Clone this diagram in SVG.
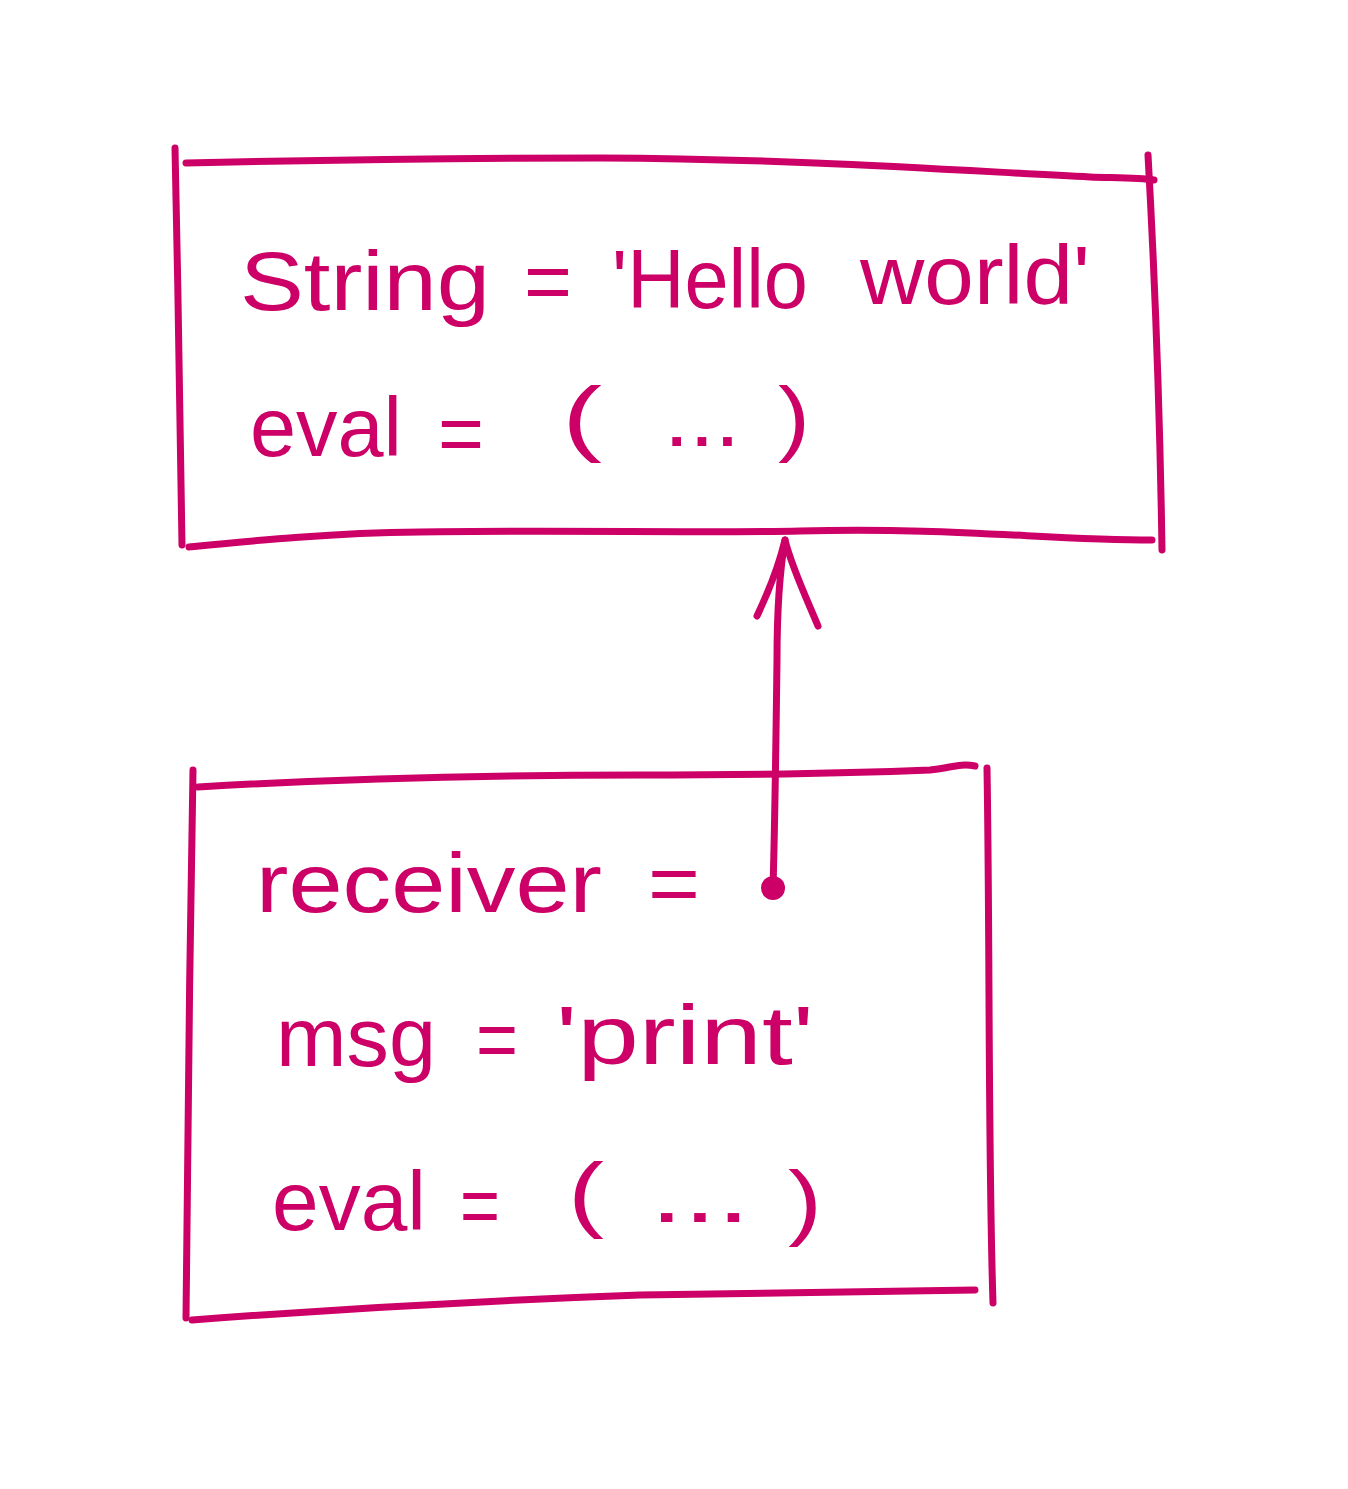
<svg xmlns="http://www.w3.org/2000/svg" width="1348" height="1489" viewBox="0 0 1348 1489">
  <style>
    .sk { fill: none; stroke: #CC0066; stroke-width: 7; stroke-linecap: round; stroke-linejoin: round; }
    .t { fill: #CC0066; font-family: "Liberation Sans", "DejaVu Sans", sans-serif; font-size: 84px; }
  </style>
  <defs>
    <marker id="openArrow" markerUnits="userSpaceOnUse" viewBox="-90 -40 100 80" refX="0" refY="0" markerWidth="100" markerHeight="80" orient="-90" overflow="visible">
      <path class="sk" d="M-76,-28 C-55,-18 -25,-6 0,0 C-25,6 -55,20 -86,33"/>
    </marker>
    <marker id="dot" markerUnits="userSpaceOnUse" viewBox="-14 -14 28 28" refX="0" refY="0" markerWidth="28" markerHeight="28" overflow="visible">
      <circle cx="0" cy="0" r="12" fill="#CC0066"/>
    </marker>
  </defs>
  <rect width="1348" height="1489" fill="#ffffff"/>

  <g id="node-string">
    <path class="sk" d="M175,148 C178,280 180,420 182,545"/>
    <path class="sk" d="M186,163 C320,160 450,158 600,158 C800,159 950,170 1090,177 C1120,178 1140,178 1154,180"/>
    <path class="sk" d="M1148,155 C1155,280 1160,420 1162,550"/>
    <path class="sk" d="M189,547 C260,540 330,533 420,532 C560,530 700,533 800,531 C950,527 1050,540 1152,540"/>
    <text class="t" x="240" y="310" textLength="250" lengthAdjust="spacingAndGlyphs">String</text>
    <text class="t" x="524" y="310" textLength="48" lengthAdjust="spacingAndGlyphs">=</text>
    <text class="t" x="612" y="308" textLength="196" lengthAdjust="spacingAndGlyphs">'Hello</text>
    <text class="t" x="860" y="304" textLength="230" lengthAdjust="spacingAndGlyphs">world'</text>
    <text class="t" x="250" y="456" textLength="152" lengthAdjust="spacingAndGlyphs">eval</text>
    <text class="t" x="438" y="462" textLength="46" lengthAdjust="spacingAndGlyphs">=</text>
    <text class="t" x="562" y="446" font-size="104" textLength="40" lengthAdjust="spacingAndGlyphs">(</text>
    <text class="t" x="664" y="446" textLength="76" lengthAdjust="spacingAndGlyphs">...</text>
    <text class="t" x="778" y="446" font-size="104" textLength="32" lengthAdjust="spacingAndGlyphs">)</text>
  </g>

  <g id="node-message">
    <path class="sk" d="M193,770 C190,950 187,1150 186,1318"/>
    <path class="sk" d="M198,787 C350,778 480,775 640,775 C780,775 880,772 930,770 C950,768 960,763 975,766"/>
    <path class="sk" d="M987,768 C990,950 988,1150 993,1303"/>
    <path class="sk" d="M192,1320 C350,1308 500,1300 640,1295 C800,1292 900,1291 975,1290"/>
    <text class="t" x="256" y="912" textLength="346" lengthAdjust="spacingAndGlyphs">receiver</text>
    <text class="t" x="648" y="912" textLength="52" lengthAdjust="spacingAndGlyphs">=</text>
    <text class="t" x="276" y="1066" textLength="160" lengthAdjust="spacingAndGlyphs">msg</text>
    <text class="t" x="476" y="1068" textLength="42" lengthAdjust="spacingAndGlyphs">=</text>
    <text class="t" x="556" y="1064" textLength="258" lengthAdjust="spacingAndGlyphs">'print'</text>
    <text class="t" x="272" y="1230" textLength="154" lengthAdjust="spacingAndGlyphs">eval</text>
    <text class="t" x="460" y="1234" textLength="40" lengthAdjust="spacingAndGlyphs">=</text>
    <text class="t" x="568" y="1222" font-size="104" textLength="36" lengthAdjust="spacingAndGlyphs">(</text>
    <text class="t" x="650" y="1222" textLength="100" lengthAdjust="spacingAndGlyphs">...</text>
    <text class="t" x="788" y="1230" font-size="110" textLength="34" lengthAdjust="spacingAndGlyphs">)</text>
  </g>

  <g id="connectors">
    <path class="sk" marker-start="url(#dot)" marker-end="url(#openArrow)" d="M773,888 C775,820 776,740 777,660 C777,610 779,575 785,540"/>
  </g>
</svg>
